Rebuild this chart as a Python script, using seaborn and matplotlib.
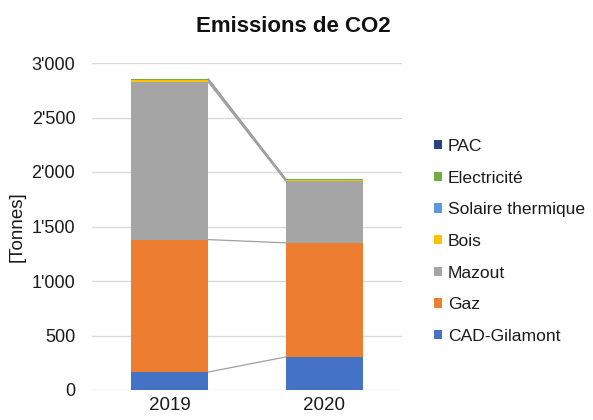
import matplotlib
matplotlib.use("Agg")
import matplotlib.pyplot as plt
from matplotlib.ticker import FuncFormatter
from matplotlib.patches import Patch
import seaborn as sns
import pandas as pd
import numpy as np

years = ["2019", "2020"]
# Series in stacking order, bottom to top
series = ["CAD-Gilamont", "Gaz", "Mazout", "Bois", "Solaire thermique", "Electricité", "PAC"]
cad = [165, 303]
gaz = [1215, 1047]
mazout = [1445, 567]
bois = [15, 8]
solaire = [2, 2]
electricite = [12, 8]
pac = [2, 2]
colors = ["#4472C4", "#ED7D31", "#A5A5A5", "#FFC000", "#5B9BD5", "#70AD47", "#264478"]

values = [cad, gaz, mazout, bois, solaire, electricite, pac]
cum = np.cumsum(np.array(values), axis=0)

sns.set_theme(style="white")
plt.rcParams["font.family"] = ["Liberation Sans", "DejaVu Sans"]
txt = "#1a1a1a"

fig = plt.figure(figsize=(5.93, 4.20), dpi=100)
ax = fig.add_axes([92 / 593, 1 - 390 / 420, 310 / 593, 327 / 420])

# Stacked bars: draw cumulative totals from the top series down
for i in range(len(series) - 1, -1, -1):
    df = pd.DataFrame({"Année": years, "Tonnes": cum[i]})
    sns.barplot(data=df, x="Année", y="Tonnes", color=colors[i], width=0.5,
                saturation=1, ax=ax, zorder=2, linewidth=0, edgecolor="none")

# Series lines joining the top of each segment between the two bars
for i in range(len(series)):
    ax.plot([0.25, 0.75], [cum[i][0], cum[i][1]], color="#A0A0A0", lw=0.9, zorder=1)

ax.set_xlim(-0.5, 1.5)
ax.set_ylim(0, 3000)
ax.set_yticks(range(0, 3001, 500))
ax.yaxis.set_major_formatter(FuncFormatter(lambda v, p: f"{int(v):,}".replace(",", "'")))
ax.grid(axis="y", color="#D9D9D9", lw=1, zorder=0)
ax.set_axisbelow(True)
for s in ax.spines.values():
    s.set_visible(False)
ax.tick_params(axis="y", length=0, pad=12, labelsize=13, labelcolor=txt)
ax.tick_params(axis="x", length=0, pad=5, labelsize=13.5, labelcolor=txt)
ax.set_xlabel("")
ax.set_ylabel("[Tonnes]", fontsize=13.5, color=txt, labelpad=4)

fig.text(0.494, 0.936, "Emissions de CO2", ha="center", va="center",
         fontsize=16, fontweight="bold", color="#111111")

handles = [Patch(facecolor=colors[i], edgecolor="none", label=series[i])
           for i in range(len(series) - 1, -1, -1)]
fig.legend(handles=handles, loc="upper left", bbox_to_anchor=(427 / 593, 1 - 132 / 420),
           frameon=False, fontsize=12.6, handlelength=0.45, handleheight=0.45,
           handletextpad=0.35, labelspacing=0.95, borderaxespad=0, labelcolor=txt)

fig.savefig("out.png", dpi=100, facecolor="white")
